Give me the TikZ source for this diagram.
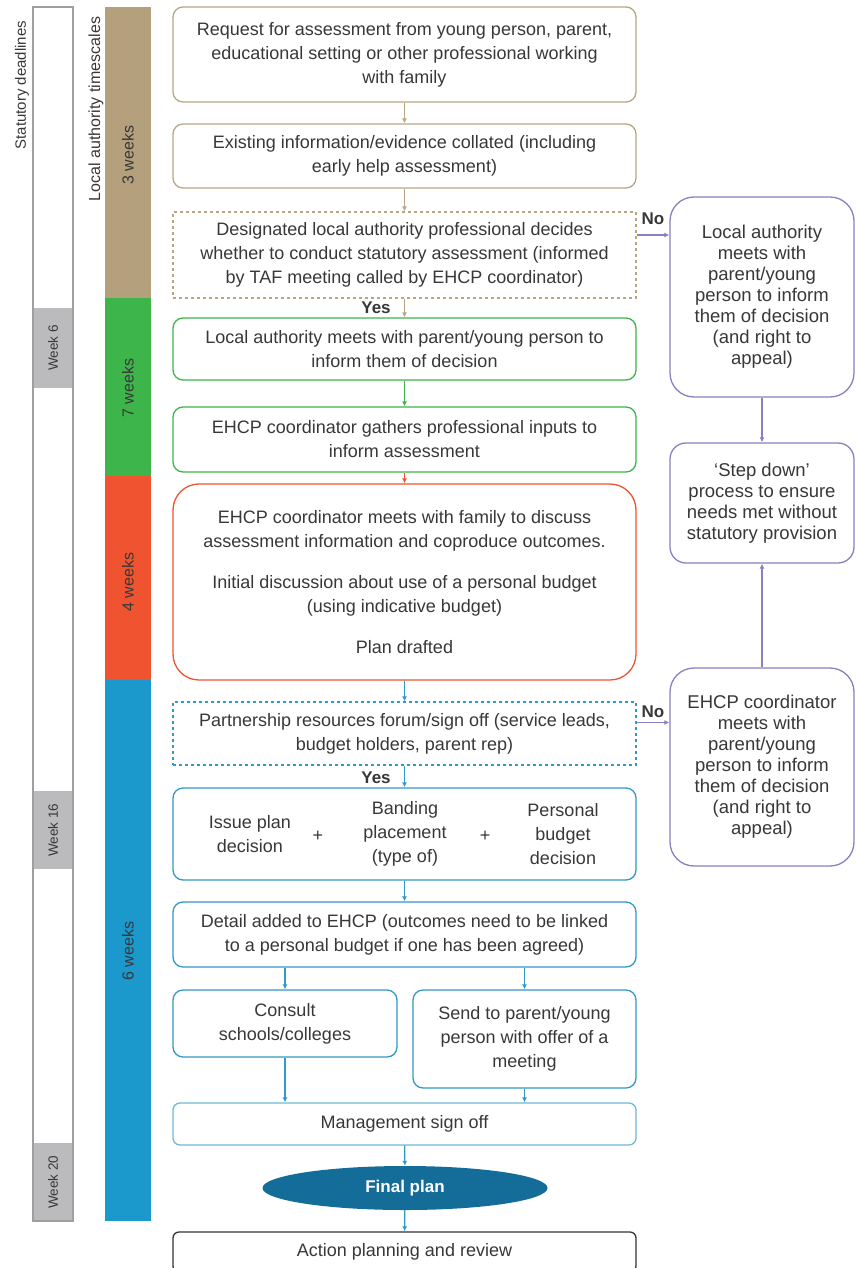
\documentclass[tikz,border=0pt]{standalone}
\usepackage{fontspec}
\setmainfont{Liberation Sans}
\usepackage{tikz}
\usetikzlibrary{positioning,arrows.meta,shapes.geometric,calc}

\definecolor{brownline}{HTML}{B8A683}
\definecolor{brownbar}{HTML}{B4A07C}
\definecolor{greenline}{HTML}{3DB54A}
\definecolor{redline}{HTML}{F0532F}
\definecolor{blueline}{HTML}{3199C6}
\definecolor{bluebar}{HTML}{1B98CC}
\definecolor{purpleline}{HTML}{8A80C0}
\definecolor{weekgray}{HTML}{BBBBBD}
\definecolor{plandark}{HTML}{146D98}
\definecolor{txt}{HTML}{383838}

\tikzset{
  box/.style={draw,fill=white,rounded corners=10pt,line width=1.3pt,align=center,text=txt,
    minimum width=463pt,inner sep=0pt,font=\fontsize{18}{24}\selectfont},
  sidebox/.style={box,rounded corners=24pt,minimum width=184pt,draw=purpleline,
    font=\fontsize{18.5}{21}\selectfont},
  part/.style={align=center,text=txt,inner sep=0pt,font=\fontsize{18}{24}\selectfont},
  flow/.style={-{Latex[length=5pt,width=5pt]},line width=1.3pt},
  lbl/.style={text=txt,inner sep=0pt,font=\fontsize{17}{20}\selectfont\bfseries},
  vlabel/.style={rotate=90,text=txt,inner sep=0pt,font=\fontsize{16}{18}\selectfont},
}

\begin{document}
\begin{tikzpicture}[x=1pt,y=-1pt]
	\useasboundingbox (0,0) rectangle (856,1268);
	% statutory deadlines
	\fill[white] (33,7) rectangle (73,1221);
	\fill[weekgray] (33,308) rectangle (73,388);
	\fill[weekgray] (33,791) rectangle (73,869);
	\fill[weekgray] (33,1143) rectangle (73,1221);
	\draw[gray!75,line width=1.3pt] (33,7) rectangle (73,1221);
	\node (statlbl) [vlabel,font=\fontsize{15}{17}\selectfont] at (22,85) {Statutory deadlines};
	\node (wk6) [vlabel,font=\fontsize{13.5}{15}\selectfont] at (53,348) {Week 6};
	\node (wk16) [vlabel,font=\fontsize{13.5}{15}\selectfont] at (53,830) {Week 16};
	\node (wk20) [vlabel,font=\fontsize{13.5}{15}\selectfont] at (53,1182) {Week 20};
	% local authority timescales
	\fill[brownbar] (105,7) rectangle (151,298);
	\fill[greenline] (105,298) rectangle (151,476);
	\fill[redline] (105,476) rectangle (151,680);
	\fill[bluebar] (105,680) rectangle (151,1221);
	\node (lalbl) [vlabel] at (96,109) {Local authority timescales};
	\node (w3) [vlabel] at (128,155) {3 weeks};
	\node (w7) [vlabel] at (128,388) {7 weeks};
	\node (w4) [vlabel] at (128,582) {4 weeks};
	\node (w6) [vlabel] at (128,951) {6 weeks};

	% main flow
	\node (req) [box,draw=brownline,minimum height=95pt] at (404.5,54.5)
		{Request for assessment from young person, parent,\\educational setting or other professional working\\with family};
	\node (exist) [box,draw=brownline,minimum height=64pt] at (404.5,156)
		{Existing information/evidence collated (including\\early help assessment)};
	\node (desig) [box,draw=brownline,dashed,rounded corners=0pt,minimum height=86pt] at (404.5,255)
		{Designated local authority professional decides\\whether to conduct statutory assessment (informed\\by TAF meeting called by EHCP coordinator)};
	\node (inform) [box,draw=greenline,minimum height=62pt] at (404.5,349)
		{Local authority meets with parent/young person to\\inform them of decision};
	\node (gather) [box,draw=greenline,minimum height=65pt] at (404.5,439.5)
		{EHCP coordinator gathers professional inputs to\\inform assessment};
	\node (meet) [box,draw=redline,rounded corners=26pt,minimum height=196pt] at (404.5,582)
		{EHCP coordinator meets with family to discuss\\assessment information and coproduce outcomes.\\[17pt]
		Initial discussion about use of a personal budget\\(using indicative budget)\\[17pt]Plan drafted};
	\node (forum) [box,draw=blueline,dashed,rounded corners=0pt,minimum height=63pt] at (404.5,733.5)
		{Partnership resources forum/sign off (service leads,\\budget holders, parent rep)};
	\node (issue) [box,draw=blueline,minimum height=92pt] at (404.5,834) {};
	\node (plan) [part] at (250,834) {Issue plan\\decision};
	\node (plus1) [part] at (318,836) {+};
	\node (band) [part] at (405,834) {Banding\\placement\\(type of)};
	\node (plus2) [part] at (485,836) {+};
	\node (budget) [part] at (563,834) {Personal\\budget\\decision};
	\node (detail) [box,draw=blueline,minimum height=65pt] at (404.5,934.5)
		{Detail added to EHCP (outcomes need to be linked\\to a personal budget if one has been agreed)};
	\node (consult) [box,draw=blueline,minimum width=224pt,minimum height=67pt] at (285,1023.5)
		{Consult\\schools/colleges};
	\node (send) [box,draw=blueline,minimum width=223pt,minimum height=98pt] at (524.5,1039)
		{Send to parent/young\\person with offer of a\\meeting};
	\node (mgmt) [box,draw=blueline!70,rounded corners=7pt,minimum height=42pt] at (404.5,1124)
		{Management sign off};
	\node (final) [ellipse,fill=plandark,minimum width=285pt,minimum height=44pt,text=white,
		font=\fontsize{17}{20}\selectfont\bfseries] at (405,1188) {Final plan};
	\node (action) [box,draw=black!80,rounded corners=6pt,minimum height=40pt] at (404.5,1252)
		{Action planning and review};

	% side column
	\node (lameet) [sidebox,minimum height=200pt] at (762,297)
		{Local authority\\meets with\\parent/young\\person to inform\\them of decision\\(and right to\\appeal)};
	\node (stepdown) [sidebox,rounded corners=16pt,minimum height=120pt] at (762,503)
		{`Step down'\\process to ensure\\needs met without\\statutory provision};
	\node (ehcpmeet) [sidebox,minimum height=198pt] at (762,767)
		{EHCP coordinator\\meets with\\parent/young\\person to inform\\them of decision\\(and right to\\appeal)};

	% connectors
	\draw[flow,brownline] (req) -- (exist);
	\draw[flow,brownline] (exist) -- (desig);
	\draw[flow,brownline] (desig) -- (inform);
	\draw[flow,greenline] (inform) -- (gather);
	\draw[flow,redline] (gather) -- (meet);
	\draw[flow,blueline] (meet) -- (forum);
	\draw[flow,blueline] (forum) -- (issue);
	\draw[flow,blueline] (issue) -- (detail);
	\draw[flow,blueline] (detail.south -| consult.north) -- (consult.north);
	\draw[flow,blueline] (detail.south -| send.north) -- (send.north);
	\draw[flow,blueline] (consult.south) -- (consult.south |- mgmt.north);
	\draw[flow,blueline] (send.south) -- (send.south |- mgmt.north);
	\draw[flow,blueline] (mgmt) -- (final);
	\draw[flow,blueline] (final) -- (action);
	\node (yes1) [lbl] at (376,308) {Yes};
	\node (yes2) [lbl] at (376,778) {Yes};

	\draw[flow,purpleline] ([yshift=20pt]desig.east) -- ([yshift=20pt]desig.east -| lameet.west);
	\node (no1) [lbl] at (653,219) {No};
	\draw[flow,purpleline] ([yshift=11pt]forum.east) -- ([yshift=11pt]forum.east -| ehcpmeet.west);
	\node (no2) [lbl] at (653,712) {No};
	\draw[flow,purpleline] (lameet) -- (stepdown);
	\draw[flow,purpleline] (ehcpmeet) -- (stepdown);
\end{tikzpicture}
\end{document}
